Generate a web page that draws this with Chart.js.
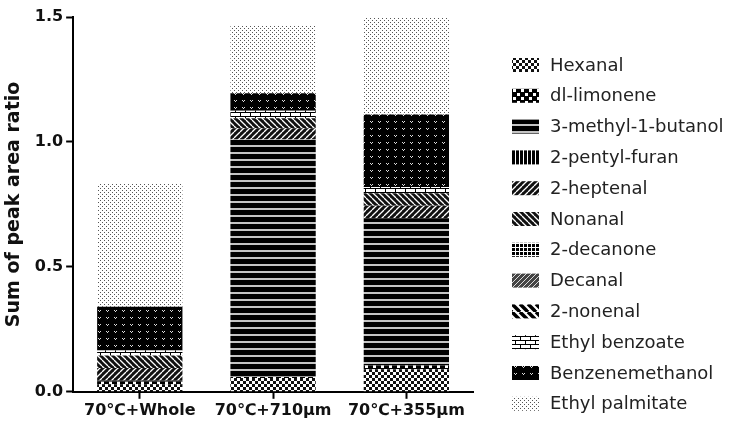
<!DOCTYPE html>
<html>
<head>
<meta charset="utf-8">
<script src="https://cdn.jsdelivr.net/npm/chart.js@4/dist/chart.umd.min.js"></script>
<style>
  html, body { margin: 0; background: #fff; }
  #wrap { width: 737px; height: 426px; }
</style>
</head>
<body>
<div id="wrap"><canvas id="chart"></canvas></div>
<script>
const groups = ["70℃+Whole", "70℃+710μm", "70℃+355μm"];

// peak area ratio per compound, one value per group
const hexanal = [0.03, 0.055, 0.09];
const limonene = [0.01, 0.005, 0.015];
const methylButanol = [0.005, 0.95, 0.59];
const pentylFuran = [0, 0, 0];
const heptenal = [0.05, 0.045, 0.05];
const nonanal = [0.05, 0.04, 0.05];
const decanone = [0, 0, 0];
const decanal = [0, 0, 0];
const nonenal = [0, 0, 0];
const ethylBenzoate = [0.02, 0.03, 0.025];
const benzenemethanol = [0.175, 0.07, 0.29];
const ethylPalmitate = [0.495, 0.27, 0.39];

const yTicks = [0, 0.5, 1.0, 1.5];

function makePattern(w, h, draw) {
  const c = document.createElement("canvas");
  c.width = w;
  c.height = h;
  const g = c.getContext("2d");
  draw(g, w, h);
  return g.createPattern(c, "repeat");
}

function diag(g, w, h, dir, color, width) {
  g.strokeStyle = color;
  g.lineWidth = width;
  for (let k = -1; k <= 1; k++) {
    g.beginPath();
    if (dir > 0) {
      g.moveTo(k * w, h);
      g.lineTo(k * w + w, 0);
    } else {
      g.moveTo(k * w, 0);
      g.lineTo(k * w + w, h);
    }
    g.stroke();
  }
}

const patterns = {
  hexanal: makePattern(6, 6, (g) => {
    g.fillStyle = "#fff"; g.fillRect(0, 0, 6, 6);
    g.fillStyle = "#111"; g.fillRect(0, 0, 3, 3); g.fillRect(3, 3, 3, 3);
  }),
  limonene: makePattern(8, 8, (g) => {
    g.fillStyle = "#000"; g.fillRect(0, 0, 8, 8);
    g.fillStyle = "#fff"; g.fillRect(1, 1, 3, 3); g.fillRect(5, 5, 3, 3);
  }),
  methylButanol: makePattern(1, 7, (g) => {
    g.fillStyle = "#000"; g.fillRect(0, 0, 1, 5);
    g.fillStyle = "#c4c4c4"; g.fillRect(0, 5, 1, 2);
  }),
  pentylFuran: makePattern(4, 1, (g) => {
    g.fillStyle = "#fff"; g.fillRect(0, 0, 4, 1);
    g.fillStyle = "#000"; g.fillRect(0, 0, 3, 1);
  }),
  heptenal: makePattern(6, 6, (g, w, h) => {
    g.fillStyle = "#111"; g.fillRect(0, 0, w, h);
    diag(g, w, h, 1, "#fff", 1.3);
  }),
  nonanal: makePattern(6, 6, (g, w, h) => {
    g.fillStyle = "#111"; g.fillRect(0, 0, w, h);
    diag(g, w, h, -1, "#fff", 1.3);
  }),
  decanone: makePattern(4, 4, (g) => {
    g.fillStyle = "#000"; g.fillRect(0, 0, 4, 4);
    g.fillStyle = "#fff"; g.fillRect(3, 0, 1, 4); g.fillRect(0, 3, 4, 1);
  }),
  decanal: makePattern(5, 5, (g, w, h) => {
    g.fillStyle = "#444"; g.fillRect(0, 0, w, h);
    diag(g, w, h, 1, "#ddd", 1);
  }),
  nonenal: makePattern(8, 8, (g, w, h) => {
    g.fillStyle = "#fff"; g.fillRect(0, 0, w, h);
    diag(g, w, h, -1, "#000", 3.5);
  }),
  ethylBenzoate: makePattern(10, 8, (g) => {
    g.fillStyle = "#fff"; g.fillRect(0, 0, 10, 8);
    g.fillStyle = "#000";
    g.fillRect(0, 0, 10, 1); g.fillRect(0, 4, 10, 1);
    g.fillRect(0, 0, 1, 4); g.fillRect(5, 4, 1, 4);
  }),
  benzenemethanol: makePattern(8, 7, (g) => {
    g.fillStyle = "#000"; g.fillRect(0, 0, 8, 7);
    g.fillStyle = "#ddd";
    g.fillRect(2, 2, 1, 1); g.fillRect(4, 2, 1, 1); g.fillRect(3, 3, 1, 1);
  }),
  ethylPalmitate: makePattern(4, 4, (g) => {
    g.fillStyle = "#fff"; g.fillRect(0, 0, 4, 4);
    g.fillStyle = "#555"; g.fillRect(0, 0, 1, 1); g.fillRect(2, 2, 1, 1);
  }),
};

const series = [
  ["Hexanal", hexanal, patterns.hexanal],
  ["dl-limonene", limonene, patterns.limonene],
  ["3-methyl-1-butanol", methylButanol, patterns.methylButanol],
  ["2-pentyl-furan", pentylFuran, patterns.pentylFuran],
  ["2-heptenal", heptenal, patterns.heptenal],
  ["Nonanal", nonanal, patterns.nonanal],
  ["2-decanone", decanone, patterns.decanone],
  ["Decanal", decanal, patterns.decanal],
  ["2-nonenal", nonenal, patterns.nonenal],
  ["Ethyl benzoate", ethylBenzoate, patterns.ethylBenzoate],
  ["Benzenemethanol", benzenemethanol, patterns.benzenemethanol],
  ["Ethyl palmitate", ethylPalmitate, patterns.ethylPalmitate],
];

// legend drawn at the right, one swatch per compound
const sideLegend = {
  id: "sideLegend",
  afterDraw(chart) {
    const c = chart.ctx;
    c.save();
    c.font = '18px "DejaVu Sans"';
    c.textBaseline = "middle";
    chart.data.datasets.forEach((ds, i) => {
      const y = 65 + i * 30.8;
      c.fillStyle = ds.backgroundColor;
      c.fillRect(512, y - 7, 27, 14);
      c.fillStyle = "#222";
      c.fillText(ds.label, 550, y + 1);
    });
    c.restore();
  },
};

const ctx = document.getElementById("chart");

new Chart(ctx, {
  type: "bar",
  data: {
    labels: groups,
    datasets: series.map(([label, data, fill]) => ({
      label: label,
      data: data,
      backgroundColor: fill,
      borderWidth: 0,
      categoryPercentage: 0.8,
      barPercentage: 0.8,
    })),
  },
  options: {
    responsive: true,
    maintainAspectRatio: false,
    animation: false,
    layout: { padding: { left: 3, right: 264, top: 17, bottom: 4 } },
    scales: {
      x: {
        stacked: true,
        grid: {
          drawOnChartArea: false,
          offset: false,
          tickLength: 7,
          tickColor: "#000",
          tickWidth: 2,
        },
        border: { color: "#000", width: 2 },
        ticks: {
          color: "#111",
          padding: 2,
          font: { family: "DejaVu Sans", size: 16, weight: "bold" },
        },
      },
      y: {
        stacked: true,
        min: 0,
        max: 1.5,
        afterBuildTicks: (axis) => {
          axis.ticks = yTicks.map((v) => ({ value: v }));
        },
        grid: {
          drawOnChartArea: false,
          tickLength: 7,
          tickColor: "#000",
          tickWidth: 2,
        },
        border: { color: "#000", width: 2 },
        ticks: {
          color: "#111",
          padding: 3,
          callback: (v) => Number(v).toFixed(1),
          font: { family: "DejaVu Sans", size: 16, weight: "bold" },
        },
        title: {
          display: true,
          text: "Sum of peak area ratio",
          color: "#111",
          padding: { top: 0, bottom: 6 },
          font: { family: "DejaVu Sans", size: 19, weight: "bold" },
        },
      },
    },
    plugins: {
      legend: { display: false },
      tooltip: { enabled: false },
    },
  },
  plugins: [sideLegend],
});
</script>
</body>
</html>
